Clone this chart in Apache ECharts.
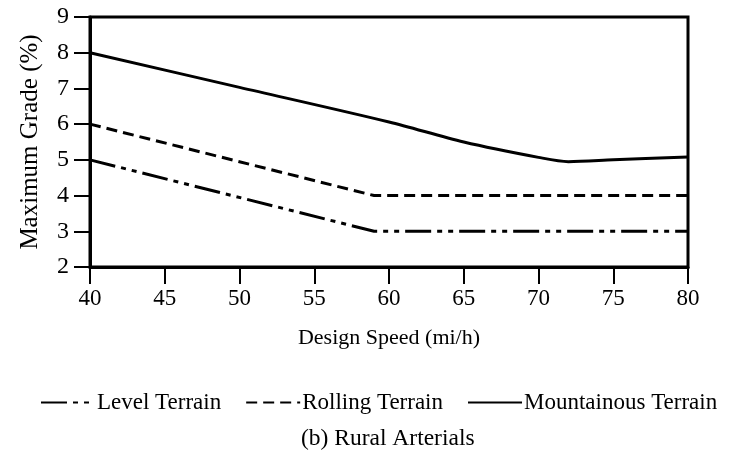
<!DOCTYPE html>
<html>
<head>
<meta charset="utf-8">
<script src="https://cdn.jsdelivr.net/npm/echarts@6/dist/echarts.min.js"></script>
<style>
  html, body { margin: 0; padding: 0; background: #fff; }
  #main { width: 731px; height: 458px; }
</style>
</head>
<body>
<div id="main"></div>
<script>
// values (design speed mi/h -> max grade %)
var level = [[40, 5], [59, 3], [80, 3]];
var rolling = [[40, 6], [59, 4], [80, 4]];
var mountainous = [[40, 8], [50, 7.03], [60, 6.06], [65, 5.5], [70, 5.07], [72, 4.95], [75, 5.0], [80, 5.08]];
var seriesNames = ['Level Terrain', 'Rolling Terrain', 'Mountainous Terrain'];

var font = 'Liberation Serif';
var chart = echarts.init(document.getElementById('main'));

var option = {
  animation: false,
  textStyle: { fontFamily: font, color: '#000' },
  title: {
    text: '(b) Rural Arterials',
    left: 296,
    top: 422,
    textStyle: { fontFamily: font, fontSize: 23.5, fontWeight: 'normal', color: '#000' }
  },
  legend: {
    data: seriesNames,
    top: 386,
    left: 35,
    itemWidth: 54,
    itemHeight: 14,
    itemGap: 24,
    itemStyle: { opacity: 0 },
    textStyle: { fontFamily: font, fontSize: 23, color: '#000', padding: [0, 0, 0, -3] }
  },
  grid: {
    left: 90,
    right: 43,
    top: 17,
    bottom: 191,
    show: true,
    borderColor: '#000',
    borderWidth: 3
  },
  xAxis: {
    type: 'value',
    min: 40,
    max: 80,
    interval: 5,
    name: 'Design Speed (mi/h)',
    nameLocation: 'middle',
    nameGap: 60,
    nameTextStyle: { fontFamily: font, fontSize: 22, color: '#000' },
    axisLine: { lineStyle: { color: '#000', width: 3 } },
    axisTick: { length: 17, lineStyle: { color: '#000', width: 2 } },
    axisLabel: { margin: 20, fontFamily: font, fontSize: 23, color: '#000' },
    splitLine: { show: false }
  },
  yAxis: {
    type: 'value',
    min: 2,
    max: 9,
    interval: 1,
    name: 'Maximum Grade (%)',
    nameLocation: 'middle',
    nameGap: 47,
    nameTextStyle: { fontFamily: font, fontSize: 25, color: '#000' },
    axisLine: { lineStyle: { color: '#000', width: 3 } },
    axisTick: { length: 16, lineStyle: { color: '#000', width: 2 } },
    axisLabel: { margin: 21, fontFamily: font, fontSize: 24, color: '#000' },
    splitLine: { show: false }
  },
  series: [
    {
      name: seriesNames[0],
      type: 'line',
      data: level,
      symbol: 'none',
      color: '#000',
      lineStyle: { color: '#000', width: 3, type: [26, 6, 5, 6, 5, 6] }
    },
    {
      name: seriesNames[1],
      type: 'line',
      data: rolling,
      symbol: 'none',
      color: '#000',
      lineStyle: { color: '#000', width: 3, type: [11, 6] }
    },
    {
      name: seriesNames[2],
      type: 'line',
      data: mountainous,
      symbol: 'none',
      smooth: 0.3,
      color: '#000',
      lineStyle: { color: '#000', width: 3 }
    }
  ]
};

chart.setOption(option);
</script>
</body>
</html>
